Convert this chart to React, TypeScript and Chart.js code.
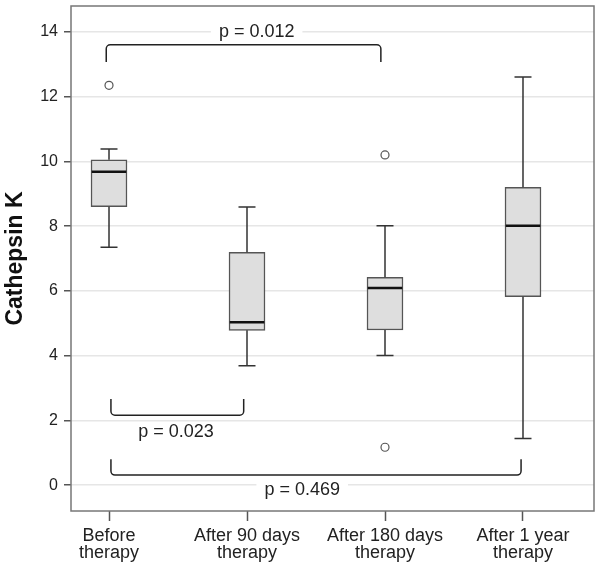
import { useEffect, useRef } from "react";
import { Chart, registerables } from "chart.js";

Chart.register(...registerables);

// ---------- data ----------
const categories: string[][] = [
  ["Before", "therapy"],
  ["After 90 days", "therapy"],
  ["After 180 days", "therapy"],
  ["After 1 year", "therapy"],
];
const categoryPositions = [1, 2, 3, 4];
const q1 = [8.6, 4.78, 4.79, 5.82];
const medians = [9.68, 5.03, 6.09, 8.01];
const q3 = [10.05, 7.19, 6.42, 9.2];
const whiskerLow = [7.35, 3.69, 4.0, 1.44];
const whiskerHigh = [10.38, 8.59, 8.01, 12.61];
const outliers: number[][] = [[12.35], [], [10.2, 1.17], []];
const yTicks = [0, 2, 4, 6, 8, 10, 12, 14];
const yTitle = "Cathepsin K";

// significance brackets (x in category units, y in Cathepsin K units)
const bracketFrom = [0.98, 1.014, 1.014];
const bracketTo = [2.97, 1.976, 3.986];
const bracketLevel = [13.6, 2.16, 0.31];
const bracketEnd = [13.07, 2.66, 0.8];
const pLabels = ["p = 0.012", "p = 0.023", "p = 0.469"];
const pLabelX = [2.07, 1.486, 2.4];
const pLabelY = [14.0, 1.64, -0.15];

const FONT = "'Liberation Sans', Arial, Helvetica, sans-serif";

const boxPlugin = {
  id: "boxExtras",
  afterDatasetsDraw(chart: any) {
    const { ctx, scales } = chart;
    const xs = scales.x;
    const ys = scales.y;
    const meta = chart.getDatasetMeta(0);
    ctx.save();
    // whiskers
    categoryPositions.forEach((pos, i) => {
      const x = xs.getPixelForValue(pos);
      const capHalf = 8.5;
      ctx.strokeStyle = "#333";
      ctx.lineWidth = 1.5;
      ctx.beginPath();
      ctx.moveTo(x, ys.getPixelForValue(q3[i]));
      ctx.lineTo(x, ys.getPixelForValue(whiskerHigh[i]));
      ctx.moveTo(x - capHalf, ys.getPixelForValue(whiskerHigh[i]));
      ctx.lineTo(x + capHalf, ys.getPixelForValue(whiskerHigh[i]));
      ctx.moveTo(x, ys.getPixelForValue(q1[i]));
      ctx.lineTo(x, ys.getPixelForValue(whiskerLow[i]));
      ctx.moveTo(x - capHalf, ys.getPixelForValue(whiskerLow[i]));
      ctx.lineTo(x + capHalf, ys.getPixelForValue(whiskerLow[i]));
      ctx.stroke();
      // median
      const el = meta.data[i];
      const half = el ? el.width / 2 : 18;
      const my = ys.getPixelForValue(medians[i]);
      ctx.strokeStyle = "#111";
      ctx.lineWidth = 2.5;
      ctx.beginPath();
      ctx.moveTo(x - half + 0.75, my);
      ctx.lineTo(x + half - 0.75, my);
      ctx.stroke();
    });

    // brackets
    const r = 4;
    ctx.strokeStyle = "#222";
    ctx.lineWidth = 1.5;
    bracketFrom.forEach((from, i) => {
      const x1 = xs.getPixelForValue(from);
      const x2 = xs.getPixelForValue(bracketTo[i]);
      const yl = ys.getPixelForValue(bracketLevel[i]);
      const ye = ys.getPixelForValue(bracketEnd[i]);
      ctx.beginPath();
      ctx.moveTo(x1, ye);
      ctx.arcTo(x1, yl, x1 + r, yl, r);
      ctx.arcTo(x2, yl, x2, ye, r);
      ctx.lineTo(x2, ye);
      ctx.stroke();
    });

    // p labels
    ctx.font = `18px ${FONT}`;
    ctx.textAlign = "center";
    ctx.textBaseline = "middle";
    pLabels.forEach((t, i) => {
      const x = xs.getPixelForValue(pLabelX[i]);
      const y = ys.getPixelForValue(pLabelY[i]);
      const w = ctx.measureText(t).width;
      ctx.fillStyle = "#fff";
      ctx.fillRect(x - w / 2 - 8, y - 10, w + 16, 20);
      ctx.fillStyle = "#222";
      ctx.fillText(t, x, y);
    });
    ctx.restore();
  },
  afterDraw(chart: any) {
    const { ctx, chartArea } = chart;
    ctx.save();
    ctx.strokeStyle = "#777";
    ctx.lineWidth = 1.5;
    ctx.strokeRect(
      chartArea.left,
      chartArea.top,
      chartArea.right - chartArea.left,
      chartArea.bottom - chartArea.top
    );
    ctx.restore();
  },
};

export default function App() {
  const canvasRef = useRef<HTMLCanvasElement | null>(null);

  useEffect(() => {
    if (!canvasRef.current) return;
    const outlierPoints: { x: number; y: number }[] = [];
    outliers.forEach((list, i) =>
      list.forEach((v) => outlierPoints.push({ x: categoryPositions[i], y: v }))
    );

    const chart = new Chart(canvasRef.current, {
      type: "bar",
      data: {
        datasets: [
          {
            type: "bar",
            data: categoryPositions.map((x, i) => ({ x, y: [q1[i], q3[i]] })) as any,
            backgroundColor: "#dedede",
            borderColor: "#555",
            borderWidth: 1.5,
            borderSkipped: false,
            barThickness: 36,
            grouped: false,
          } as any,
          {
            type: "scatter",
            data: outlierPoints,
            pointRadius: 4,
            pointBackgroundColor: "#fff",
            pointBorderColor: "#555",
            pointBorderWidth: 1.2,
          } as any,
        ],
      },
      options: {
        responsive: false,
        animation: false,
        events: [],
        layout: { padding: { top: 6, right: 8, left: 0, bottom: 0 } },
        plugins: {
          legend: { display: false },
          tooltip: { enabled: false },
        },
        scales: {
          x: {
            type: "linear",
            min: 0.7246,
            max: 4.5145,
            offset: false,
            afterBuildTicks: (scale: any) => {
              scale.ticks = categoryPositions.map((v) => ({ value: v }));
            },
            afterFit: (scale: any) => {
              scale.height = 60;
              scale.paddingLeft = 0;
              scale.paddingRight = 0;
            },
            border: { display: false },
            grid: {
              drawOnChartArea: false,
              drawTicks: true,
              tickLength: 10,
              tickColor: "#555",
              tickWidth: 1.5,
              offset: false,
            },
            ticks: {
              autoSkip: false,
              maxRotation: 0,
              padding: 6,
              color: "#222",
              font: { family: FONT, size: 18, lineHeight: 0.97 },
              callback: (v: any) => {
                const idx = categoryPositions.indexOf(Number(v));
                return idx >= 0 ? categories[idx] : "";
              },
            },
          } as any,
          y: {
            type: "linear",
            min: -0.8,
            max: 14.8,
            afterBuildTicks: (scale: any) => {
              scale.ticks = yTicks.map((v) => ({ value: v }));
            },
            afterFit: (scale: any) => {
              scale.width = 71;
              scale.paddingTop = 0;
              scale.paddingBottom = 0;
            },
            border: { display: false },
            grid: {
              color: "#e6e6e6",
              lineWidth: 1.5,
              drawTicks: true,
              tickLength: 7,
              tickColor: "#555",
              tickWidth: 1.5,
            },
            ticks: {
              padding: 6,
              color: "#222",
              font: { family: FONT, size: 16 },
            },
            title: {
              display: true,
              text: yTitle,
              color: "#111",
              font: { family: FONT, size: 23, weight: "bold" },
              padding: { top: 2, bottom: 0 },
            },
          } as any,
        },
      },
      plugins: [boxPlugin],
    });
    return () => chart.destroy();
  }, []);

  return (
    <div style={{ position: "absolute", left: 0, top: 0, width: 602, height: 571, background: "#fff" }}>
      <canvas ref={canvasRef} width={602} height={571} style={{ display: "block" }} />
    </div>
  );
}
